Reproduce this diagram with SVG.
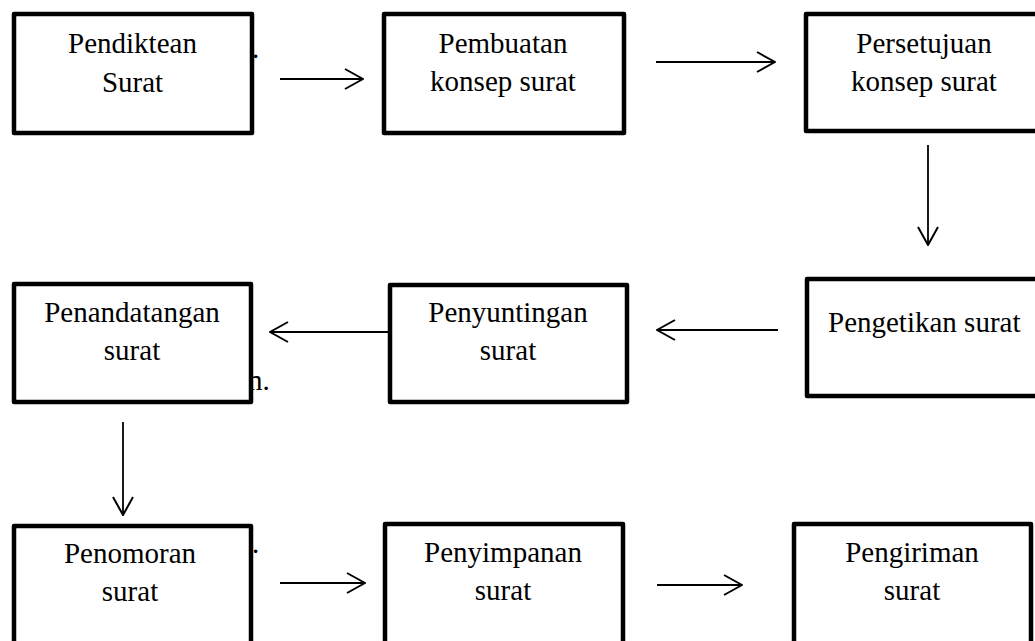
<svg xmlns="http://www.w3.org/2000/svg" width="1035" height="641" viewBox="0 0 1035 641">
<style>
.box{fill:#fff;stroke:#000;stroke-width:4.5;stroke-linejoin:round}
.t{font-family:"Liberation Serif","Times New Roman",serif;font-size:29px;fill:#000;text-anchor:middle}
.s{font-family:"Liberation Serif","Times New Roman",serif;font-size:29px;fill:#000}
.c{stroke:#000;stroke-width:1.8;fill:none}
</style>
<defs>
<marker id="ah" markerUnits="userSpaceOnUse" viewBox="0 0 20 24" refX="19" refY="12" markerWidth="20" markerHeight="24" orient="auto">
<path d="M1,2 L19,12 L1,22" fill="none" stroke="#000" stroke-width="2"/>
</marker>
</defs>
<rect width="1035" height="641" fill="#fff"/>
<g id="stray">
<text class="s" x="252" y="58">.</text>
<text class="s" x="248" y="390">n.</text>
<text class="s" x="252" y="553">.</text>
</g>
<g id="n1"><rect class="box" x="14" y="14" width="238" height="119"/><text class="t" x="132.5" y="53">Pendiktean</text><text class="t" x="132.5" y="92">Surat</text></g>
<g id="n2"><rect class="box" x="384" y="14" width="240" height="119"/><text class="t" x="503" y="53">Pembuatan</text><text class="t" x="503" y="91">konsep surat</text></g>
<g id="n3"><rect class="box" x="806" y="14" width="250" height="117"/><text class="t" x="924" y="53">Persetujuan</text><text class="t" x="924" y="91">konsep surat</text></g>
<g id="n4"><rect class="box" x="807" y="279" width="250" height="117"/><text class="s" x="828" y="332">Pengetikan surat</text></g>
<g id="n5"><rect class="box" x="390" y="285" width="237" height="117"/><text class="t" x="508" y="322">Penyuntingan</text><text class="t" x="508" y="360">surat</text></g>
<g id="n6"><rect class="box" x="14" y="284" width="237" height="118"/><text class="t" x="132" y="322">Penandatangan</text><text class="t" x="132" y="360">surat</text></g>
<g id="n7"><rect class="box" x="14" y="526" width="237" height="200"/><text class="t" x="130" y="563">Penomoran</text><text class="t" x="130" y="601">surat</text></g>
<g id="n8"><rect class="box" x="385" y="524" width="238" height="200"/><text class="t" x="503" y="562">Penyimpanan</text><text class="t" x="503" y="600">surat</text></g>
<g id="n9"><rect class="box" x="794" y="524" width="237" height="200"/><text class="t" x="912" y="562">Pengiriman</text><text class="t" x="912" y="600">surat</text></g>
<g id="connectors">
<line class="c" x1="280" y1="79" x2="363" y2="79" marker-end="url(#ah)"/>
<line class="c" x1="656" y1="62" x2="775" y2="62" marker-end="url(#ah)"/>
<line class="c" x1="928" y1="145" x2="928" y2="245" marker-end="url(#ah)"/>
<line class="c" x1="778" y1="330" x2="657" y2="330" marker-end="url(#ah)"/>
<line class="c" x1="388" y1="332" x2="270" y2="332" marker-end="url(#ah)"/>
<line class="c" x1="123" y1="422" x2="123" y2="515" marker-end="url(#ah)"/>
<line class="c" x1="280" y1="583" x2="365" y2="583" marker-end="url(#ah)"/>
<line class="c" x1="657" y1="585" x2="742" y2="585" marker-end="url(#ah)"/>
</g>
</svg>
